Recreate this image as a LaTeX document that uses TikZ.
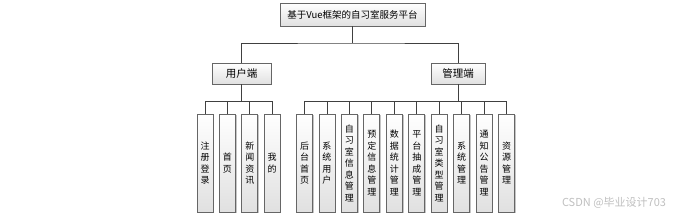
\documentclass[tikz,border=0pt]{standalone}
\usepackage{fontspec}
\newfontfamily\cjk{Noto Sans CJK SC}
\usetikzlibrary{shadows}

\begin{document}
\begin{tikzpicture}[x=1pt, y=-1pt, line width=0.8pt,
    box/.style={draw=black!60, top color=white, bottom color=black!12,
        drop shadow={shadow xshift=1.2pt, shadow yshift=-1.2pt, fill=black!45},
        inner sep=0pt, font=\cjk\fontsize{9.5}{11}\selectfont},
    leaf/.style={box, minimum width=16pt, minimum height=98pt, align=center,
        font=\cjk\fontsize{9}{11.5}\selectfont},
    link/.style={draw=black!75, line width=0.8pt}]
    \useasboundingbox (0,0) rectangle (681,218);

    % levels
    \node[box, minimum width=145pt, minimum height=23pt] (root) at (352.5,14.5) {基于Vue框架的自习室服务平台};
    \node[box, minimum width=59pt, minimum height=21pt, font=\cjk\fontsize{10.5}{12}\selectfont] (user) at (241.5,73.5) {用户端};
    \node[box, minimum width=54pt, minimum height=21pt, font=\cjk\fontsize{10.5}{12}\selectfont] (admin) at (458,73.5) {管理端};

    \coordinate (j0) at (352.5,43);
    \coordinate (j1) at (241.5,101.5);
    \coordinate (j2) at (458,101.5);

    \draw[link] (root) -- (j0);
    \draw[link] (user.north) |- (j0) -| (admin.north);
    \draw[link] (user) -- (j1);
    \draw[link] (admin) -- (j2);

    % user side
    \foreach \t [count=\i from 0] in {注\\册\\登\\录, 首\\页, 新\\闻\\资\\讯, 我\\的} {
        \node[leaf] (u\i) at (205+22.4*\i,163) {\t};
        \draw[link] (u\i.north) |- (j1);
    }

    % admin side
    \foreach \t [count=\i from 0] in {后\\台\\首\\页, 系\\统\\用\\户, 自\\习\\室\\信\\息\\管\\理,
        预\\定\\信\\息\\管\\理, 数\\据\\统\\计\\管\\理, 平\\台\\抽\\成\\管\\理,
        自\\习\\室\\类\\型\\管\\理, 系\\统\\管\\理, 通\\知\\公\\告\\管\\理, 资\\源\\管\\理} {
        \node[leaf] (a\i) at (304.5+22.45*\i,163) {\t};
        \draw[link] (a\i.north) |- (j2);
    }

    \node[text=black!25, font=\cjk\fontsize{11}{12}\selectfont] (mark) at (614,203) {CSDN @毕业设计703};
\end{tikzpicture}
\end{document}
